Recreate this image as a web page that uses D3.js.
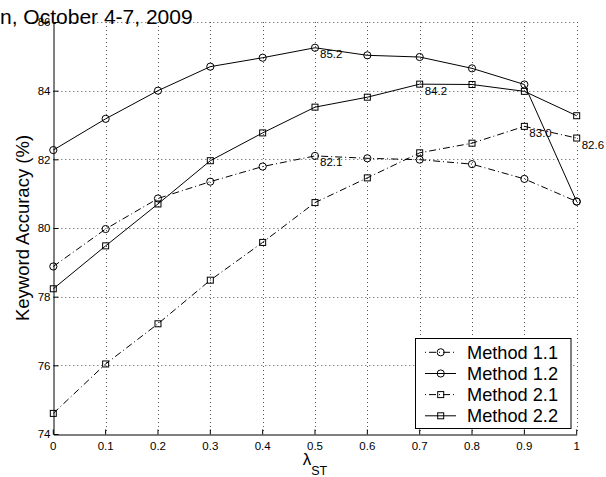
<!DOCTYPE html>
<html>
<head>
<meta charset="utf-8">
<script src="https://cdn.jsdelivr.net/npm/d3@7"></script>
<style>
  html, body { margin: 0; padding: 0; background: #fff; }
  svg { display: block; }
  text { font-family: "Liberation Sans", Arial, sans-serif; fill: #000; }
</style>
</head>
<body>
<div id="chart"></div>
<script>
// ---- data ----
const lambdas = [0, 0.1, 0.2, 0.3, 0.4, 0.5, 0.6, 0.7, 0.8, 0.9, 1];
const method11 = [78.88, 79.97, 80.86, 81.35, 81.79, 82.10, 82.03, 81.99, 81.86, 81.43, 80.77];
const method12 = [82.27, 83.18, 84.00, 84.70, 84.96, 85.25, 85.03, 84.98, 84.65, 84.18, 80.77];
const method21 = [74.60, 76.04, 77.21, 78.48, 79.58, 80.74, 81.46, 82.19, 82.47, 82.96, 82.62];
const method22 = [78.23, 79.48, 80.70, 81.96, 82.77, 83.52, 83.81, 84.19, 84.18, 83.98, 83.27];
const seriesNames = ["Method 1.1", "Method 1.2", "Method 2.1", "Method 2.2"];
const yTicks = [74, 76, 78, 80, 82, 84, 86];
const xTicks = [0, 0.1, 0.2, 0.3, 0.4, 0.5, 0.6, 0.7, 0.8, 0.9, 1];
const xTickLabels = ["0", "0.1", "0.2", "0.3", "0.4", "0.5", "0.6", "0.7", "0.8", "0.9", "1"];
// annotations: [series index, point index, text]
const annotSeries = [1, 3, 2, 2, 0];
const annotPoint = [5, 7, 9, 10, 5];
const annotText = ["85.2", "84.2", "83.0", "82.6", "82.1"];
const titleText = "n, October 4-7, 2009";
const yLabel = "Keyword Accuracy (%)";

const allSeries = [method11, method12, method21, method22];
const dashed = [true, false, true, false];
const markerShape = ["circle", "circle", "square", "square"];

// ---- layout ----
const W = 606, H = 477;
const L = 53.3, R = 576.7, T = 22, B = 434;
const DASH = "7,3,1,3";

const svg = d3.select("#chart").append("svg").attr("width", W).attr("height", H);
svg.append("rect").attr("width", W).attr("height", H).attr("fill", "#fff");

const x = d3.scaleLinear().domain([0, 1]).range([L, R]);
const y = d3.scaleLinear().domain([74, 86]).range([B, T]);

// grid
const grid = svg.append("g").attr("stroke", "#555").attr("stroke-width", 1).attr("stroke-dasharray", "1,3");
grid.selectAll(".gx").data(xTicks.filter(d => d > 0)).enter().append("line")
  .attr("x1", d => Math.round(x(d)) + 0.5).attr("x2", d => Math.round(x(d)) + 0.5)
  .attr("y1", T).attr("y2", B);
grid.selectAll(".gy").data(yTicks.filter(d => d > 74)).enter().append("line")
  .attr("y1", d => Math.round(y(d)) + 0.5).attr("y2", d => Math.round(y(d)) + 0.5)
  .attr("x1", L).attr("x2", R);

// axes
const fmt = d => xTickLabels[xTicks.indexOf(d)];
const xAxis = d3.axisBottom(x).tickValues(xTicks).tickFormat(fmt).tickSizeInner(-5).tickSizeOuter(0).tickPadding(7);
const yAxis = d3.axisLeft(y).tickValues(yTicks).tickFormat(d3.format("d")).tickSizeInner(-5).tickSizeOuter(0).tickPadding(3);

const gx = svg.append("g").attr("transform", `translate(0,${Math.round(B) + 0.5})`).call(xAxis);
const gy = svg.append("g").attr("transform", `translate(${Math.round(L) + 0.5},0)`).call(yAxis);
[gx, gy].forEach(g => {
  g.selectAll("text").attr("font-size", "11.5px").attr("font-family", "Liberation Sans, Arial, sans-serif");
  g.selectAll("path, line").attr("stroke", "#000");
});
gx.selectAll(".tick").each(function () {
  d3.select(this).attr("transform", t => `translate(${x(t)},0)`);
});

// lines
const clipLine = d3.line().x((d, i) => x(lambdas[i])).y(d => y(d));
allSeries.forEach((s, si) => {
  svg.append("path")
    .attr("d", clipLine(s))
    .attr("fill", "none")
    .attr("stroke", "#000")
    .attr("stroke-width", 1)
    .attr("stroke-dasharray", dashed[si] ? DASH : null);
});

function drawMarker(g, shape, cx, cy) {
  if (shape === "circle") {
    g.append("circle").attr("cx", cx).attr("cy", cy).attr("r", 3.6)
      .attr("fill", "none").attr("stroke", "#000").attr("stroke-width", 1);
  } else {
    g.append("rect").attr("x", cx - 3).attr("y", cy - 3).attr("width", 6).attr("height", 6)
      .attr("fill", "none").attr("stroke", "#000").attr("stroke-width", 1);
  }
}
const mg = svg.append("g");
allSeries.forEach((s, si) => {
  s.forEach((v, i) => drawMarker(mg, markerShape[si], x(lambdas[i]), y(v)));
});

// annotations
annotText.forEach((t, k) => {
  const s = allSeries[annotSeries[k]];
  const i = annotPoint[k];
  svg.append("text")
    .attr("x", x(lambdas[i]) + 5)
    .attr("y", y(s[i]) + 10.5)
    .attr("font-size", "11.5px")
    .text(t);
});

// legend
const lg = svg.append("g");
const lx0 = 415, ly0 = 338.5, lw = 155.5, lh = 90;
lg.append("rect").attr("x", lx0 + 0.5).attr("y", ly0).attr("width", lw).attr("height", lh)
  .attr("fill", "#fff").attr("stroke", "#000").attr("stroke-width", 1);
const rowY = [352.3, 373.5, 394.6, 415.8];
seriesNames.forEach((name, si) => {
  const yy = rowY[si];
  lg.append("line").attr("x1", 425).attr("x2", 456).attr("y1", yy).attr("y2", yy)
    .attr("stroke", "#000").attr("stroke-width", 1)
    .attr("stroke-dasharray", dashed[si] ? "1,3,7,3" : null);
  drawMarker(lg, markerShape[si], 440.7, yy);
  lg.append("text").attr("x", 467).attr("y", yy).attr("dy", "0.36em")
    .attr("font-size", "18.2px").text(name);
});

// axis labels
svg.append("text")
  .attr("transform", `translate(28.5,${(T + B) / 2}) rotate(-90)`)
  .attr("text-anchor", "middle")
  .attr("font-size", "18.5px")
  .text(yLabel);

const xl = svg.append("text").attr("x", (L + R) / 2).attr("y", 465).attr("text-anchor", "middle");
xl.append("tspan").attr("font-size", "17px").text("λ");
xl.append("tspan").attr("font-size", "12.5px").attr("dy", 10).text("ST");

// title fragment (clipped header)
svg.append("text").attr("x", 0).attr("y", 24).attr("font-size", "21px").text(titleText);
</script>
</body>
</html>
